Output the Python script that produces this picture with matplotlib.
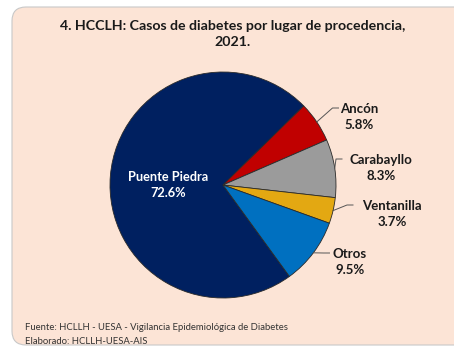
import numpy as np
import matplotlib.pyplot as plt
from matplotlib.patches import FancyBboxPatch

plt.rcParams['font.family'] = ['Lato', 'DejaVu Sans']

lugares = ["Puente Piedra", "Ancón", "Carabayllo", "Ventanilla", "Otros"]
porcentajes = [72.6, 5.8, 8.3, 3.7, 9.5]
colores = ["#002060", "#C00000", "#9B9B9B", "#E3A812", "#0070C0"]

W, H = 454, 347
fig = plt.figure(figsize=(W / 100, H / 100), dpi=100)
ax = fig.add_axes([0, 0, 1, 1])

# rounded peach panel behind everything
panel = FancyBboxPatch((12, 2), 470, H - 9, boxstyle="round,pad=0,rounding_size=14",
                       facecolor="#FCE4D6", edgecolor="#C8C8C8", linewidth=0.8, zorder=0)
ax.add_patch(panel)

cx, cy, r = 223, H - 185, 113
wedges, _ = ax.pie(porcentajes, colors=colores, startangle=-54, counterclock=False,
                   center=(cx, cy), radius=r,
                   wedgeprops=dict(edgecolor="#2A2A2A", linewidth=0.6))

ax.set_xlim(0, W)
ax.set_ylim(0, H)
ax.set_aspect('equal')
ax.axis('off')

# label for the big slice sits inside it
ax.text(168, H - 185, f"{lugares[0]}\n{porcentajes[0]}%", color="white",
        fontsize=9.2, fontweight="bold", ha="center", va="center", linespacing=1.45)

# outside labels with leader lines: (text x, text y) in pixels from top
label_pos = {1: (359, 117), 2: (381, 168), 3: (392, 214), 4: (350, 262)}
for i, (tx, ty) in label_pos.items():
    w = wedges[i]
    ang = np.deg2rad((w.theta1 + w.theta2) / 2)
    ex, ey = cx + r * np.cos(ang), cy + r * np.sin(ang)
    ax.text(tx, H - ty, f"{lugares[i]}\n{porcentajes[i]}%", color="#1A1A1A",
            fontsize=9.5, fontweight="bold", ha="center", va="center", linespacing=1.45)
    lx = tx - len(lugares[i]) * 3.7 - 2
    ly = H - ty + 9
    ax.plot([ex, lx - 6, lx], [ey, ly, ly], color="#555555", linewidth=0.7)

ax.text(233, H - 34, "4. HCCLH: Casos de diabetes por lugar de procedencia,\n2021.",
        fontsize=10.2, fontweight="bold", ha="center", va="center", color="#1A1A1A",
        linespacing=1.4)

ax.text(25, H - 327, "Fuente: HCLLH - UESA - Vigilancia Epidemiológica de Diabetes",
        fontsize=6.8, ha="left", va="center", color="#333333")
ax.text(25, H - 341, "Elaborado: HCLLH-UESA-AIS",
        fontsize=6.8, ha="left", va="center", color="#333333")

fig.savefig("out.png", dpi=100, facecolor="white")
